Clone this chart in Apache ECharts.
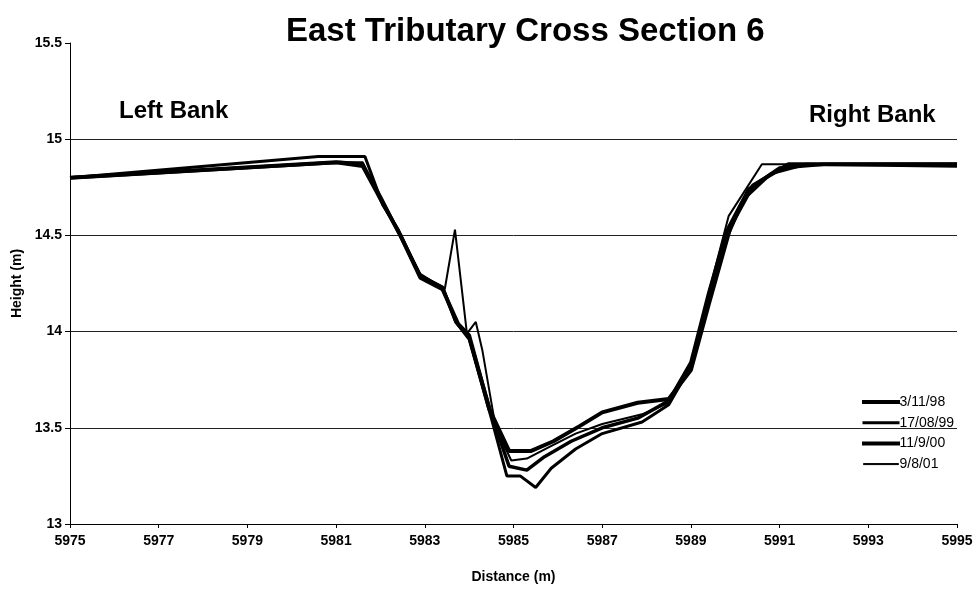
<!DOCTYPE html>
<html>
<head>
<meta charset="utf-8">
<script src="https://cdn.jsdelivr.net/npm/echarts@6/dist/echarts.min.js"></script>
<style>
  html, body { margin: 0; padding: 0; background: #fff; }
  #chart { width: 977px; height: 589px; }
</style>
</head>
<body>
<div id="chart"></div>
<script>
// Surveyed cross-section profiles: [distance (m), height (m)]
const survey981103 = [
  [5975, 14.80], [5981.1, 14.88], [5981.6, 14.87], [5982.0, 14.70], [5982.4, 14.52],
  [5982.9, 14.29], [5983.4, 14.23], [5983.7, 14.05], [5984.0, 13.97], [5984.5, 13.57],
  [5984.9, 13.30], [5985.3, 13.28], [5985.7, 13.35], [5986.3, 13.43], [5987.0, 13.50],
  [5987.8, 13.55], [5988.5, 13.64], [5989.0, 13.84], [5989.4, 14.20], [5989.8, 14.52],
  [5990.3, 14.74], [5991.0, 14.85], [5992.0, 14.87], [5995, 14.87]
];
const survey990817 = [
  [5975, 14.80], [5980.6, 14.91], [5981.65, 14.91], [5982.05, 14.66], [5982.4, 14.53],
  [5982.9, 14.29], [5983.4, 14.23], [5983.7, 14.05], [5984.0, 13.96], [5984.5, 13.55],
  [5984.85, 13.25], [5985.15, 13.25], [5985.5, 13.19], [5985.85, 13.29], [5986.4, 13.39],
  [5987.0, 13.47], [5987.9, 13.53], [5988.5, 13.62], [5989.0, 13.82], [5989.4, 14.17],
  [5989.8, 14.48], [5990.2, 14.69], [5990.8, 14.82], [5991.6, 14.87], [5995, 14.86]
];
const survey000911 = [
  [5975, 14.80], [5981.0, 14.88], [5981.6, 14.86], [5982.0, 14.69], [5982.45, 14.50],
  [5982.9, 14.28], [5983.4, 14.22], [5983.75, 14.04], [5984.0, 13.98], [5984.45, 13.60],
  [5984.9, 13.38], [5985.4, 13.38], [5985.9, 13.43], [5986.5, 13.51], [5987.0, 13.58],
  [5987.8, 13.63], [5988.5, 13.65], [5989.0, 13.80], [5989.4, 14.14], [5989.9, 14.55],
  [5990.4, 14.76], [5991.2, 14.87], [5995, 14.87]
];
const survey010809 = [
  [5975, 14.80], [5981.0, 14.88], [5981.6, 14.88], [5982.0, 14.68], [5982.4, 14.52],
  [5982.9, 14.30], [5983.45, 14.22], [5983.68, 14.53], [5983.95, 13.99], [5984.15, 14.05],
  [5984.3, 13.90], [5984.6, 13.50], [5984.95, 13.33], [5985.3, 13.34], [5985.8, 13.40],
  [5986.4, 13.47], [5987.0, 13.52], [5987.9, 13.57], [5988.5, 13.63], [5989.0, 13.83],
  [5989.4, 14.20], [5989.85, 14.60], [5990.6, 14.87], [5995, 14.87]
];

const surveyDates = ['3/11/98', '17/08/99', '11/9/00', '9/8/01'];
const surveys = [survey981103, survey990817, survey000911, survey010809];
const lineWidths = [3.5, 3, 4, 2];
const legendThickness = [4, 3, 4, 2];

const distanceTicks = [5975, 5977, 5979, 5981, 5983, 5985, 5987, 5989, 5991, 5993, 5995];

const FONT = '"Liberation Sans", Arial, sans-serif';

const chart = echarts.init(document.getElementById('chart'), null, { renderer: 'canvas' });

chart.setOption({
  backgroundColor: '#ffffff',
  animation: false,
  title: [
    {
      text: 'East Tributary Cross Section 6',
      left: 281, top: 10,
      textStyle: { fontFamily: FONT, fontWeight: 'bold', fontSize: 33, color: '#000' }
    },
    {
      text: 'Left Bank',
      left: 114, top: 94,
      textStyle: { fontFamily: FONT, fontWeight: 'bold', fontSize: 24, color: '#000' }
    },
    {
      text: 'Right Bank',
      left: 804, top: 98,
      textStyle: { fontFamily: FONT, fontWeight: 'bold', fontSize: 24, color: '#000' }
    }
  ],
  legend: {
    orient: 'vertical',
    left: 862, top: 395,
    padding: 0,
    icon: 'rect',
    itemWidth: 35, itemHeight: 1, itemGap: 6.7,
    textStyle: { fontFamily: FONT, fontSize: 14, lineHeight: 14, color: '#000', padding: [0, 0, 0, -4] },
    data: surveyDates.map((name, i) => ({
      name: name,
      itemStyle: { color: '#000', borderColor: '#000', borderWidth: legendThickness[i] - 1 }
    }))
  },
  grid: { left: 70, right: 20, top: 43, bottom: 64, containLabel: false },
  xAxis: {
    type: 'value',
    min: 5975, max: 5995,
    name: 'Distance (m)',
    nameLocation: 'middle',
    nameGap: 46,
    nameTextStyle: { fontFamily: FONT, fontWeight: 'bold', fontSize: 14, color: '#000' },
    axisLine: { show: true, lineStyle: { color: '#000', width: 1 } },
    axisTick: { show: true, length: 4, customValues: distanceTicks, lineStyle: { color: '#000' } },
    axisLabel: {
      customValues: distanceTicks,
      margin: 10,
      formatter: v => String(v),
      fontFamily: FONT, fontWeight: 'bold', fontSize: 14, color: '#000'
    },
    splitLine: { show: false }
  },
  yAxis: {
    type: 'value',
    min: 13, max: 15.5, interval: 0.5,
    name: 'Height (m)',
    nameLocation: 'middle',
    nameGap: 46,
    nameTextStyle: { fontFamily: FONT, fontWeight: 'bold', fontSize: 14, color: '#000' },
    axisLine: { show: true, lineStyle: { color: '#000', width: 1 } },
    axisTick: { show: true, length: 5, lineStyle: { color: '#000' } },
    axisLabel: { margin: 8, fontFamily: FONT, fontWeight: 'bold', fontSize: 14, color: '#000' },
    splitLine: {
      show: true, showMinLine: false, showMaxLine: false,
      lineStyle: { color: '#222', width: 1 }
    }
  },
  series: surveys.map((pts, i) => ({
    name: surveyDates[i],
    type: 'line',
    data: pts,
    symbol: 'none',
    smooth: false,
    lineStyle: { color: '#000', width: lineWidths[i] },
    itemStyle: { color: '#000' }
  }))
});
</script>
</body>
</html>
